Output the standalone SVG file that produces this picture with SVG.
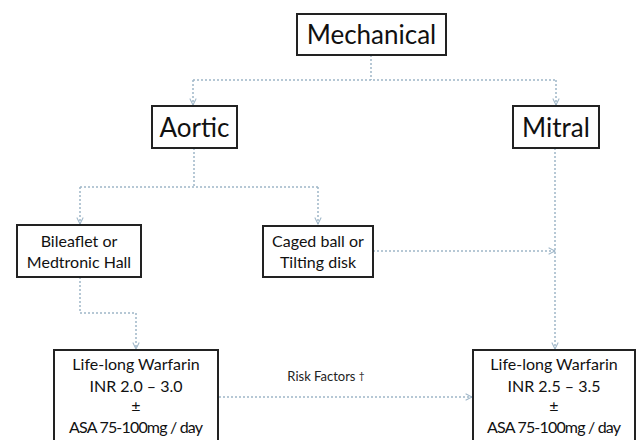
<svg xmlns="http://www.w3.org/2000/svg" width="638" height="440" viewBox="0 0 638 440">
<defs>
<style>
.box{fill:#fff;stroke:#222;stroke-width:2}
.t{font-family:Lato,"Liberation Sans",sans-serif;fill:#111;text-anchor:middle}
.big{font-size:26px}
.mid{font-size:16px}
.sm{font-size:13px;fill:#222}
.c{fill:none;stroke:#9fb6c8;stroke-width:1.5;stroke-dasharray:2 2}
</style>
<marker id="ah" viewBox="0 0 10 10" refX="9" refY="5" markerWidth="8" markerHeight="8" orient="auto" markerUnits="userSpaceOnUse">
<path d="M1,1 L9,5 L1,9" fill="none" stroke="#9fb6c8" stroke-width="1.3"/>
</marker>
</defs>
<rect width="638" height="440" fill="#fff"/>
<g id="connectors">
<path class="c" d="M371,55 V80"/>
<path class="c" d="M193,80 H556"/>
<path class="c" d="M193,80 V105" marker-end="url(#ah)"/>
<path class="c" d="M556,80 V105" marker-end="url(#ah)"/>
<path class="c" d="M194,148 V187"/>
<path class="c" d="M80,187 H318"/>
<path class="c" d="M80,187 V224" marker-end="url(#ah)"/>
<path class="c" d="M318,187 V224" marker-end="url(#ah)"/>
<path class="c" d="M373,251 H555" marker-end="url(#ah)"/>
<path class="c" d="M555,148 V349" marker-end="url(#ah)"/>
<path class="c" d="M80,277 V313 H136 V349" marker-end="url(#ah)"/>
<path class="c" d="M219,397 H472" marker-end="url(#ah)"/>
<text class="t sm" x="326" y="381">Risk Factors <tspan font-size="10" dy="-2">†</tspan></text>
</g>
<g id="mechanical">
<rect class="box" x="297" y="14" width="149" height="41"/>
<text class="t big" x="371.5" y="44">Mechanical</text>
</g>
<g id="aortic">
<rect class="box" x="152" y="106" width="85" height="42"/>
<text class="t big" x="194.5" y="137">Aortic</text>
</g>
<g id="mitral">
<rect class="box" x="513" y="106" width="86" height="42"/>
<text class="t big" x="556" y="137">Mitral</text>
</g>
<g id="bileaflet">
<rect class="box" x="17" y="225" width="124" height="52"/>
<text class="t mid" x="79" y="247">Bileaflet or</text>
<text class="t mid" x="79" y="268">Medtronic Hall</text>
</g>
<g id="caged">
<rect class="box" x="263" y="226" width="110" height="51"/>
<text class="t mid" x="318" y="247">Caged ball or</text>
<text class="t mid" x="318" y="268">Tilting disk</text>
</g>
<g id="aortic-therapy">
<rect class="box" x="54" y="350" width="164" height="92"/>
<text class="t mid" x="136" y="370">Life-long Warfarin</text>
<text class="t mid" x="136" y="392">INR 2.0 – 3.0</text>
<text class="t mid" x="136" y="412">±</text>
<text class="t mid" x="136" y="433" textLength="134" lengthAdjust="spacing">ASA 75-100mg / day</text>
</g>
<g id="mitral-therapy">
<rect class="box" x="473" y="350" width="162" height="92"/>
<text class="t mid" x="554" y="370">Life-long Warfarin</text>
<text class="t mid" x="554" y="392">INR 2.5 – 3.5</text>
<text class="t mid" x="554" y="412">±</text>
<text class="t mid" x="554" y="433" textLength="134" lengthAdjust="spacing">ASA 75-100mg / day</text>
</g>
</svg>
